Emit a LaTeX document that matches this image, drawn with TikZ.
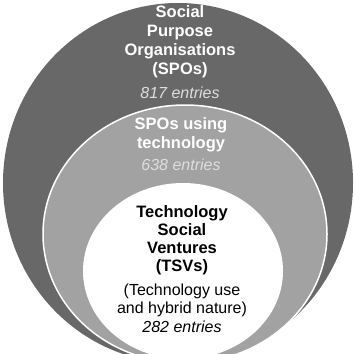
\documentclass[tikz,border=0pt]{standalone}
\usepackage{fontspec}
\setmainfont{Liberation Sans}
\usetikzlibrary{shapes.geometric, positioning}
\definecolor{outergray}{RGB}{104,104,104}
\definecolor{midgray}{RGB}{162,162,162}
\definecolor{countgray}{RGB}{222,222,222}

\begin{document}
\begin{tikzpicture}[x=1pt, y=-1pt,
        ring/.style={ellipse, inner sep=0pt},
        title/.style={align=center, font=\bfseries\fontsize{16.5}{19}\selectfont},
        note/.style={align=center, font=\fontsize{16}{17.5}\selectfont},
        count/.style={font=\itshape\fontsize{16}{17}\selectfont}]
        \useasboundingbox (0,0) rectangle (355,353);
        \clip (0,0) rectangle (355,353);

        % nested rings
        \node[ring, fill=outergray, minimum width=350pt, minimum height=360pt] (spo) at (178,183) {};
        \node[ring, fill=midgray, draw=white, line width=1.5pt, minimum width=284pt, minimum height=258pt] (tech) at (185,234) {};
        \node[ring, fill=white, minimum width=200pt, minimum height=176pt] (tsv) at (183,271) {};

        % labels
        \node[title, text=white] (spolabel) at (180,42) {Social\\Purpose\\Organisations\\(SPOs)};
        \node[count, text=countgray] (spocount) at (180,93) {817 entries};
        \node[title, text=white] (techlabel) at (181,134.5) {SPOs using\\technology};
        \node[count, text=countgray] (techcount) at (181,164.5) {638 entries};
        \node[title, text=black, font=\bfseries\fontsize{16.5}{18}\selectfont] (tsvlabel) at (182,240) {Technology\\Social\\Ventures\\(TSVs)};
        \node[note] (tsvnote) at (182,300.5) {(Technology use\\and hybrid nature)};
        \node[count] (tsvcount) at (182,327) {282 entries};
\end{tikzpicture}
\end{document}
